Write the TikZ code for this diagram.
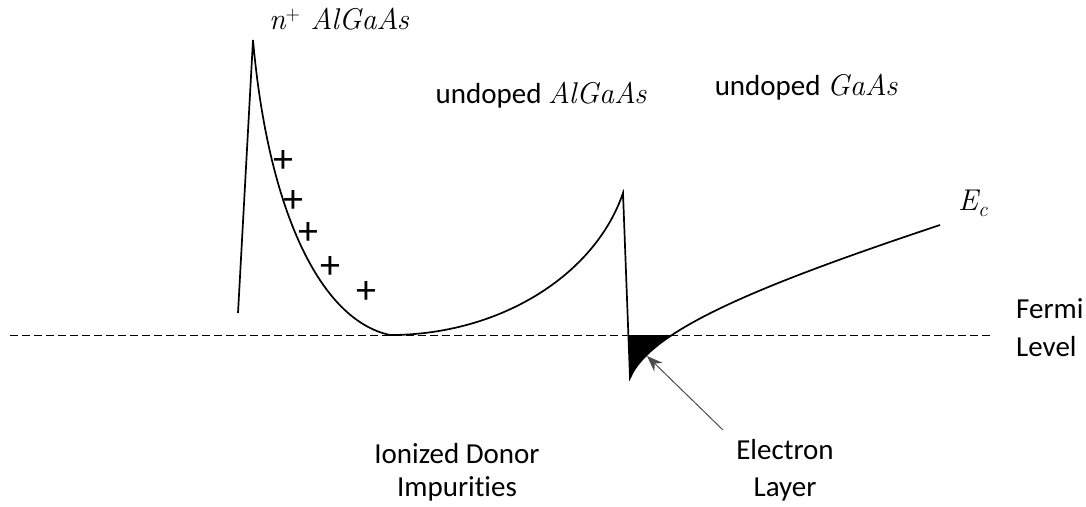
\documentclass[tikz,border=0pt]{standalone}
\usepackage{fontspec}
\setmainfont{Carlito}[Ligatures=NoCommon]
\newfontfamily\lmit{Latin Modern Roman}
\newcommand{\vr}[1]{{\lmit\itshape\fontsize{30}{36}\selectfont #1}}
\usetikzlibrary{arrows.meta}
\begin{document}
\begin{tikzpicture}[x=1pt,y=-1pt,
  band/.style={line width=1.7pt,black},
  fermi/.style={line width=0.9pt,dash pattern=on 8pt off 4pt},
  lbl/.style={font=\fontsize{29}{36}\selectfont,inner sep=0pt},
  plus/.style={font=\fontsize{40}{40}\selectfont,inner sep=0pt},
  pointer/.style={line width=1pt,black!70,-{Stealth[length=16pt,width=12pt]}}]
\useasboundingbox (0,0) rectangle (1086,506);
% coordinates
\coordinate (base) at (238,313);
\coordinate (peak1) at (253,40);
\coordinate (min1) at (390,335);
\coordinate (peak2) at (623,193);
\coordinate (notch) at (630,378);
\coordinate (ecend) at (940,225);
\coordinate (fl) at (10,335);
\coordinate (fr) at (992,335);
% Fermi level
\draw[fermi] (fl) -- (fr);
% electron layer fill
\begin{scope}
  \clip (0,335) rectangle (1086,506);
  \fill (peak2) -- (notch) .. controls (650,330) and (760,285) .. (ecend) -- cycle;
\end{scope}
% conduction band
\draw[band,line join=miter] (base) -- (peak1)
  .. controls (268,210) and (320,320) .. (min1)
  .. controls (500,335) and (595,275) .. (peak2)
  -- (notch)
  .. controls (650,330) and (760,285) .. (ecend);
% plus signs
\node[plus] (p1) at (283,162) {+};
\node[plus] (p2) at (293,202) {+};
\node[plus] (p3) at (308,233) {+};
\node[plus] (p4) at (330,267) {+};
\node[plus] (p5) at (366,292) {+};
% labels
\node[lbl,anchor=base] (nalgaas) at (339,29) {\vr{n\raisebox{0.3em}{\lmit\upshape\fontsize{20}{20}\selectfont+}\ AlGaAs}};
\node[lbl,anchor=base] (ualgaas) at (541,103) {undoped \vr{AlGaAs}};
\node[lbl,anchor=base] (ugaas) at (806,95) {undoped \vr{GaAs}};
\node[lbl,anchor=base west] (ec) at (958,210) {\vr{E\raisebox{-0.2em}{\fontsize{21}{21}\selectfont c}}};
\node[lbl,anchor=west,align=left,font=\fontsize{29}{38}\selectfont] (fermitxt) at (1016,328) {Fermi\\Level};
\node[lbl,align=center,font=\fontsize{29}{33}\selectfont] (donor) at (457,472) {Ionized Donor\\Impurities};
\node[lbl,align=center,font=\fontsize{29}{37}\selectfont] (elayer) at (785,470) {Electron\\Layer};
\coordinate (arrowtail) at (723,430);
\coordinate (arrowtip) at (647,356);
\draw[pointer] (arrowtail) -- (arrowtip);
\end{tikzpicture}
\end{document}
